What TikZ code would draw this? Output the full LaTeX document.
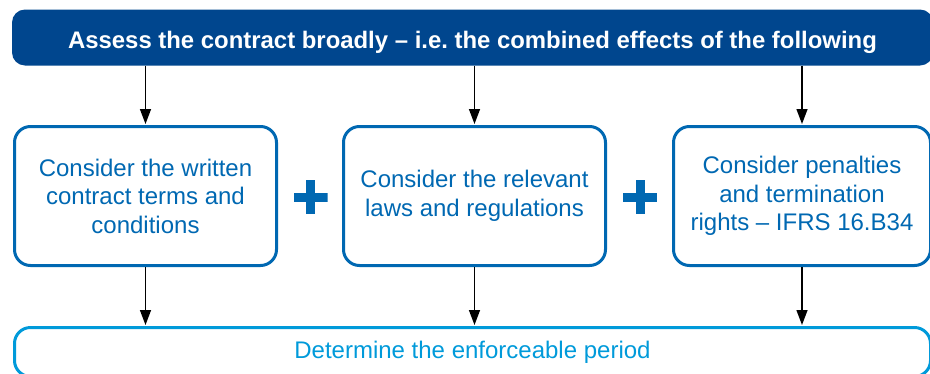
\documentclass[tikz,border=0pt]{standalone}
\usepackage{fontspec}
\setmainfont{Liberation Sans}
\usetikzlibrary{arrows.meta}
\definecolor{barblue}{RGB}{0,70,142}
\definecolor{midblue}{RGB}{0,104,178}
\definecolor{lightblue}{RGB}{0,154,218}
\begin{document}
\begin{tikzpicture}[x=1pt,y=-1pt,
    topbar/.style={fill=barblue,rounded corners=13pt,minimum width=921pt,minimum height=56pt,inner sep=0pt,text height=22pt,text depth=0pt,text=white,font=\fontsize{23.9}{28}\selectfont\bfseries},
    rulebox/.style={draw=midblue,line width=3pt,rounded corners=16pt,minimum height=139pt,inner sep=0pt,align=center,text=midblue,font=\fontsize{24}{28.5}\selectfont},
    resultbox/.style={draw=lightblue,line width=3pt,rounded corners=16pt,minimum width=916pt,minimum height=49pt,inner sep=0pt,text=lightblue,font=\fontsize{24}{28.5}\selectfont},
    flow/.style={-{Triangle[width=11pt,length=15pt]},line width=1.4pt,shorten >=1pt},
    plus/.style={minimum size=34pt,inner sep=0pt,path picture={
        \fill[midblue] ([yshift=-4.5pt]path picture bounding box.west) rectangle ([yshift=4.5pt]path picture bounding box.east);
        \fill[midblue] ([xshift=-4.5pt]path picture bounding box.north) rectangle ([xshift=4.5pt]path picture bounding box.south);}}]
  \useasboundingbox (0,0) rectangle (930,373);
  \clip (0,0) rectangle (930,373);
  \node[topbar] (assess) at (472.5,37.5) {Assess the contract broadly -- i.e.\ the combined effects of the following};
  \node[rulebox,minimum width=262pt] (terms) at (145.5,196) {Consider the written\\contract terms and\\conditions};
  \node[rulebox,minimum width=262pt] (laws) at (474.5,196) {Consider the relevant\\laws and regulations};
  \node[rulebox,minimum width=257pt] (penalties) at (802,196) {Consider penalties\\and termination\\rights -- IFRS 16.B34};
  \node[resultbox] (period) at (472.5,352) {Determine the enforceable period};
  \node[plus] (plusA) at (310.5,197) {};
  \node[plus] (plusB) at (640,197) {};
  \foreach \b in {terms,laws,penalties}{
    \draw[flow] (\b.north |- assess.south) -- (\b.north);
    \draw[flow] (\b.south) -- (\b.south |- period.north);
  }
\end{tikzpicture}
\end{document}
